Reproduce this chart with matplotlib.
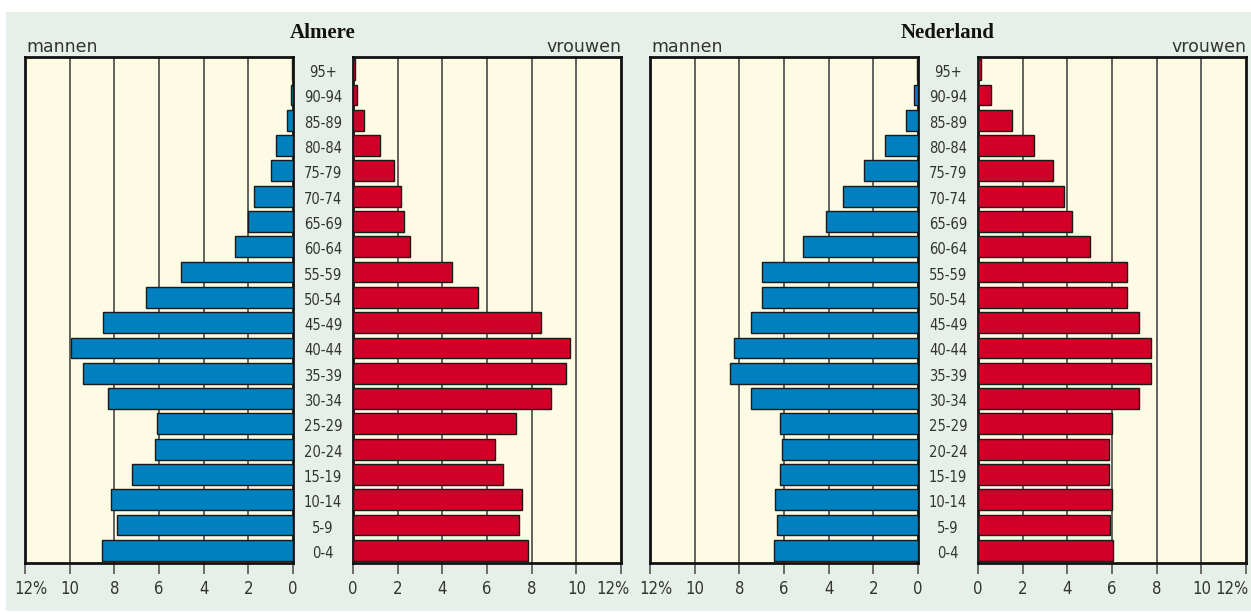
import matplotlib
matplotlib.use("Agg")
import matplotlib.pyplot as plt
from matplotlib.patches import Rectangle
import matplotlib.transforms as mtransforms

age_labels = ["0-4", "5-9", "10-14", "15-19", "20-24", "25-29", "30-34", "35-39",
              "40-44", "45-49", "50-54", "55-59", "60-64", "65-69", "70-74",
              "75-79", "80-84", "85-89", "90-94", "95+"]

# Almere (percent of population), bottom (0-4) to top (95+)
almere_men = [8.55, 7.9, 8.15, 7.2, 6.2, 6.1, 8.3, 9.4, 9.95, 8.5,
              6.6, 5.0, 2.6, 2.0, 1.73, 1.0, 0.76, 0.25, 0.1, 0.05]
almere_women = [7.85, 7.45, 7.55, 6.7, 6.35, 7.3, 8.85, 9.55, 9.7, 8.4,
                5.6, 4.45, 2.55, 2.3, 2.15, 1.83, 1.2, 0.5, 0.17, 0.1]
# Nederland
nl_men = [6.45, 6.3, 6.4, 6.2, 6.1, 6.2, 7.5, 8.4, 8.25, 7.5,
          7.0, 7.0, 5.15, 4.1, 3.35, 2.4, 1.5, 0.55, 0.2, 0.05]
nl_women = [6.05, 5.9, 6.0, 5.85, 5.85, 6.0, 7.2, 7.75, 7.75, 7.2,
            6.65, 6.65, 5.0, 4.2, 3.85, 3.35, 2.5, 1.5, 0.6, 0.15]

ticks = [0, 2, 4, 6, 8, 10, 12]
tick_labels = ["0", "2", "4", "6", "8", "10", "12%"]

BG = "#e7f0e8"
CREAM = "#fdfbe3"
BLUE = "#0080bf"
RED = "#d10029"
EDGE = "#1a1a1a"
GRID = "#555555"
TXT = "#333333"

W, H = 1251, 614
fig = plt.figure(figsize=(W / 100, H / 100), dpi=100, facecolor="white")
fig.patches.append(Rectangle((6 / W, 3 / H), 1 - 6 / W, (H - 15) / H,
                             transform=fig.transFigure, facecolor=BG,
                             edgecolor="none", zorder=-10))

FONT = "DejaVu Sans"


def fx(px):
    return px / W


def fy(py):
    return 1 - py / H


ax_top, ax_bot = 57, 563
ax_h = (ax_bot - ax_top) / H
ax_y0 = fy(ax_bot)


def make_panel(x_left0, x_left1, x_right0, x_right1, men, women, title,
               right_shift):
    axL = fig.add_axes([fx(x_left0), ax_y0, fx(x_left1 - x_left0), ax_h])
    axR = fig.add_axes([fx(x_right0), ax_y0, fx(x_right1 - x_right0), ax_h])
    n = len(age_labels)
    ypos = list(range(n))
    for ax, vals, color, shift in ((axL, men, BLUE, 6),
                                   (axR, women, RED, right_shift)):
        ax.set_facecolor(CREAM)
        ax.barh(ypos, vals, height=0.82, color=color, edgecolor=EDGE,
                linewidth=1.0, zorder=3)
        ax.set_ylim(-0.5, n - 0.5)
        ax.set_yticks([])
        ax.set_xticks(ticks)
        ax.set_xticklabels(tick_labels, fontsize=12, color=TXT, family=FONT,
                           fontstretch="condensed")
        ax.tick_params(axis="x", direction="out", length=8, width=1.2,
                       color=GRID, pad=4)
        for t in ticks[1:-1]:
            ax.axvline(t, color=GRID, linewidth=1.3, zorder=1)
        for s in ax.spines.values():
            s.set_color("#111111")
            s.set_linewidth(2)
        # nudge the outer "12%" label inward like the reference
        lab = ax.get_xticklabels()[-1]
        lab.set_transform(lab.get_transform() +
                          mtransforms.ScaledTranslation(shift / 100, 0,
                                                        fig.dpi_scale_trans))
    axL.set_xlim(12, 0)
    axR.set_xlim(0, 12)

    cx = (x_left1 + x_right0) / 2
    trans = mtransforms.blended_transform_factory(fig.transFigure, axL.transData)
    for i, lab in enumerate(age_labels):
        fig.text(fx(cx), i - 0.12, lab, transform=trans, ha="center",
                 va="center", fontsize=10.5, color=TXT, family=FONT,
                 fontstretch="condensed")
    fig.text(fx(cx), fy(33), title, ha="center", va="center", fontsize=15,
             fontweight="bold", family="Liberation Serif", color="#111111")
    fig.text(fx(x_left0 + 1), fy(47), "mannen", ha="left", va="center",
             fontsize=12.5, color=TXT, family=FONT)
    fig.text(fx(x_right1), fy(47), "vrouwen", ha="right", va="center",
             fontsize=12.5, color=TXT, family=FONT)


make_panel(25, 293, 353, 621, almere_men, almere_women, "Almere", -8)
make_panel(650, 918, 978, 1246, nl_men, nl_women, "Nederland", -14)

fig.savefig("out.png", dpi=100, facecolor="white")
